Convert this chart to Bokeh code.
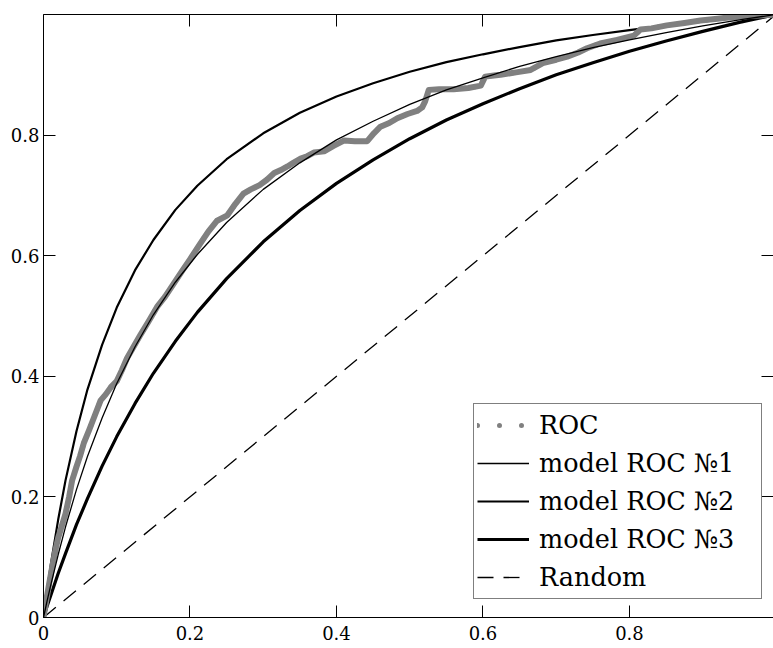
from bokeh.plotting import figure
from bokeh.models import Range1d, LinearAxis, FixedTicker, Legend, LegendItem
from bokeh.embed import file_html
from bokeh.resources import INLINE

# ---- data ----
model_x = [0, 0.005, 0.01, 0.02, 0.03, 0.045, 0.06, 0.08, 0.1, 0.125, 0.15, 0.18,
           0.21, 0.25, 0.3, 0.35, 0.4, 0.45, 0.5, 0.55, 0.6, 0.65, 0.7, 0.75,
           0.8, 0.85, 0.9, 0.95, 1.0]
model1_y = [0, 0.028, 0.054, 0.104, 0.150, 0.212, 0.267, 0.331, 0.388, 0.449,
            0.502, 0.556, 0.602, 0.655, 0.710, 0.754, 0.792, 0.823, 0.851, 0.875,
            0.895, 0.914, 0.930, 0.945, 0.958, 0.970, 0.981, 0.991, 1.0]
model2_y = [0, 0.046, 0.088, 0.162, 0.227, 0.309, 0.378, 0.452, 0.514, 0.576,
            0.626, 0.676, 0.716, 0.760, 0.803, 0.837, 0.864, 0.886, 0.905, 0.921,
            0.934, 0.946, 0.957, 0.966, 0.974, 0.982, 0.988, 0.995, 1.0]
model3_y = [0, 0.019, 0.037, 0.073, 0.106, 0.154, 0.197, 0.251, 0.300, 0.355,
            0.405, 0.458, 0.506, 0.562, 0.623, 0.675, 0.720, 0.759, 0.794, 0.825,
            0.852, 0.877, 0.900, 0.920, 0.939, 0.956, 0.972, 0.987, 1.0]

roc_x = [0, 0.004, 0.008, 0.012, 0.016, 0.02, 0.025, 0.03, 0.035, 0.039, 0.045,
         0.05, 0.055, 0.062, 0.07, 0.078, 0.085, 0.092, 0.1, 0.107, 0.114, 0.122,
         0.132, 0.143, 0.155, 0.166, 0.178, 0.19, 0.2, 0.214, 0.225, 0.237, 0.251,
         0.262, 0.273, 0.283, 0.295, 0.305, 0.315, 0.324, 0.333, 0.341, 0.351,
         0.36, 0.369, 0.383, 0.396, 0.41, 0.425, 0.442, 0.451, 0.46, 0.472, 0.483,
         0.497, 0.51, 0.517, 0.521, 0.526, 0.54, 0.56, 0.58, 0.597, 0.603, 0.615,
         0.624, 0.645, 0.665, 0.683, 0.7, 0.715, 0.73, 0.742, 0.76, 0.783, 0.806,
         0.815, 0.83, 0.851, 0.875, 0.897, 0.92, 0.942, 0.97, 1.0]
roc_y = [0, 0.03, 0.058, 0.085, 0.11, 0.132, 0.152, 0.172, 0.2, 0.227, 0.25,
         0.268, 0.289, 0.31, 0.335, 0.36, 0.37, 0.382, 0.392, 0.41, 0.43, 0.447,
         0.468, 0.49, 0.515, 0.532, 0.554, 0.576, 0.594, 0.62, 0.64, 0.658, 0.667,
         0.686, 0.703, 0.71, 0.717, 0.726, 0.737, 0.742, 0.748, 0.754, 0.761,
         0.765, 0.771, 0.773, 0.782, 0.791, 0.79, 0.79, 0.803, 0.814, 0.82, 0.828,
         0.835, 0.84, 0.846, 0.856, 0.875, 0.876, 0.876, 0.878, 0.882, 0.897, 0.899,
         0.9, 0.904, 0.908, 0.92, 0.925, 0.93, 0.937, 0.944, 0.952, 0.958, 0.965,
         0.975, 0.977, 0.982, 0.986, 0.99, 0.993, 0.996, 0.998, 1.0]

random_x = [0, 1]
random_y = [0, 1]

x_ticks = [0, 0.2, 0.4, 0.6, 0.8]
x_tick_labels = ["0", "0.2", "0.4", "0.6", "0.8"]
y_ticks = [0, 0.2, 0.4, 0.6, 0.8]
y_tick_labels = ["0", "0.2", "0.4", "0.6", "0.8"]

legend_labels = ["ROC", "model ROC №1", "model ROC №2", "model ROC №3", "Random"]

# ---- figure ----
p = figure(width=773, height=647,
           x_range=Range1d(0, 0.9966), y_range=Range1d(0, 1),
           x_axis_type=None, y_axis_type=None,
           min_border_left=43, min_border_right=0,
           min_border_top=14, min_border_bottom=30,
           output_backend="svg", toolbar_location=None)
p.xgrid.visible = False
p.ygrid.visible = False
p.outline_line_color = None
p.background_fill_color = "white"
p.border_fill_color = "white"

FONT = "DejaVu Serif"


def make_axis(ticks, labels, show_labels, standoff, show_line=True):
    ax = LinearAxis(ticker=FixedTicker(ticks=ticks))
    ax.major_tick_in = 12
    ax.major_tick_out = 0
    ax.minor_tick_in = 0
    ax.minor_tick_out = 0
    ax.axis_line_color = "black" if show_line else None
    ax.axis_line_width = 1
    ax.major_tick_line_color = "black"
    ax.major_tick_line_width = 1
    ax.major_label_overrides = {t: l for t, l in zip(ticks, labels)}
    ax.major_label_text_font = FONT
    ax.major_label_text_color = "black"
    ax.major_label_standoff = standoff
    ax.major_label_text_font_size = "18px" if show_labels else "0px"
    return ax


p.add_layout(make_axis(x_ticks, x_tick_labels, True, 8), "below")
p.add_layout(make_axis(y_ticks, y_tick_labels, True, 4), "left")
p.add_layout(make_axis(x_ticks, ["", "", "", "", ""], False, 0), "above")
p.add_layout(make_axis(y_ticks, ["", "", "", "", ""], False, 0, show_line=False), "right")

# ---- glyphs ----
r_rand = p.line(random_x, random_y, line_color="black", line_width=1.3,
                line_dash="16 10")
r_m3 = p.line(model_x, model3_y, line_color="black", line_width=3.2)
r_m2 = p.line(model_x, model2_y, line_color="black", line_width=2.2)
r_roc = p.line(roc_x, roc_y, line_color="#808080", line_width=6,
               line_join="round", line_cap="round")
r_roc_dots = p.line(roc_x, roc_y, line_color="#808080", line_width=5,
                    line_dash="0 22", line_cap="round")
r_m1 = p.line(model_x, model1_y, line_color="black", line_width=1.3)

legend = Legend(items=[
    LegendItem(label=legend_labels[0], renderers=[r_roc_dots]),
    LegendItem(label=legend_labels[1], renderers=[r_m1]),
    LegendItem(label=legend_labels[2], renderers=[r_m2]),
    LegendItem(label=legend_labels[3], renderers=[r_m3]),
    LegendItem(label=legend_labels[4], renderers=[r_rand]),
])
legend.location = (430, 18)
legend.margin = 0
legend.padding = 3
legend.spacing = 2
legend.glyph_width = 52
legend.glyph_height = 36
legend.label_height = 36
legend.label_width = 219
legend.label_standoff = 10
legend.label_text_font = FONT
legend.label_text_font_size = "25.5px"
legend.label_text_color = "black"
legend.border_line_color = "black"
legend.border_line_width = 1
legend.background_fill_color = "white"
legend.background_fill_alpha = 1
p.add_layout(legend, "center")

open("out.html", "w").write(file_html(p, INLINE))
